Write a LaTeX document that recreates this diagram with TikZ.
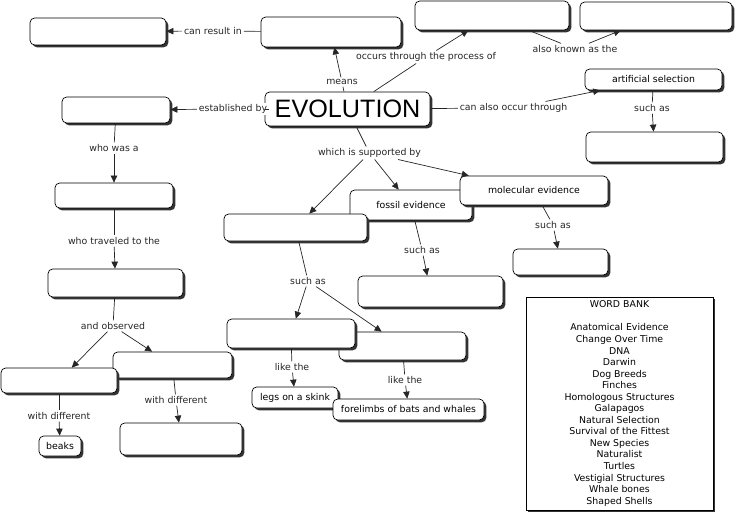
\documentclass[tikz,border=0pt]{standalone}
\usepackage{fontspec}
\setmainfont{DejaVu Sans}
\newfontfamily\evofont{Liberation Sans}
\usetikzlibrary{arrows.meta,shadows}

\begin{document}
\begin{tikzpicture}[x=0.03cm,y=-0.03cm,
  box/.style={draw,line width=0.6pt,rounded corners=4pt,fill=white,inner sep=2pt,
    drop shadow={shadow xshift=2pt,shadow yshift=-2pt,fill=black!80,opacity=1},
    font=\fontsize{8}{9.6}\selectfont},
  dims/.style 2 args={minimum width=#1cm,minimum height=#2cm},
  lbl/.style={fill=white,inner sep=1.5pt,text=black!85,font=\fontsize{8}{9.6}\selectfont},
  link/.style={draw=black!85,line width=0.6pt},
  arr/.style={link,-{Triangle[length=6pt,width=5.5pt]}}]
  \useasboundingbox (0,0) rectangle (736,515);
  % concept boxes
  \node[box,dims={4.08}{0.81}] (result) at (98,31.5) {};
  \node[box,dims={4.2}{0.9}] (meaning) at (331,32) {};
  \node[box,dims={4.62}{0.87}] (process) at (492,15.5) {};
  \node[box,dims={4.56}{0.84}] (aka) at (656,16) {};
  \node[box,dims={4.95}{1.02},font=\evofont\fontsize{21.5}{24}\selectfont] (evo) at (347.5,109) {EVOLUTION};
  \node[box,dims={4.11}{0.63}] (artsel) at (653.5,79.5) {artificial selection};
  \node[box,dims={4.11}{0.9}] (breeds) at (654.5,147) {};
  \node[box,dims={3.24}{0.78}] (founder) at (116,110) {};
  \node[box,dims={3.54}{0.75}] (job) at (114,195.5) {};
  \node[box,dims={4.05}{0.84}] (place) at (115.5,283) {};
  \node[box,dims={3.57}{0.78}] (animalR) at (172.5,365) {};
  \node[box,dims={3.48}{0.75}] (animalL) at (59,380.5) {};
  \node[box,dims={1.26}{0.6}] (beaks) at (60,446) {beaks};
  \node[box,dims={3.66}{0.96}] (shells) at (181,439) {};
  \node[box,dims={3.66}{0.9}] (fossil) at (411,205) {fossil evidence};
  \node[box,dims={4.44}{0.87}] (molec) at (534,190.5) {molecular evidence};
  \node[box,dims={4.29}{0.81}] (anat) at (295.5,227.5) {};
  \node[box,dims={2.85}{0.78}] (dna) at (560.5,262) {};
  \node[box,dims={4.35}{0.93}] (bones) at (430.5,291.5) {};
  \node[box,dims={3.81}{0.84}] (vest) at (402.5,346) {};
  \node[box,dims={3.84}{0.87}] (homol) at (291,333.5) {};
  \node[box,dims={2.58}{0.63}] (skink) at (295,397.5) {legs on a skink};
  \node[box,dims={4.53}{0.63}] (limbs) at (408.5,409.5) {forelimbs of bats and whales};
  \node[box,dims={5.61}{6.39},rounded corners=0pt,align=center,font=\fontsize{8}{9.85}\selectfont] (bank) at (619.5,403.5)
    {WORD BANK\\[9.85pt]Anatomical Evidence\\Change Over Time\\DNA\\Darwin\\Dog Breeds\\Finches\\Homologous Structures\\Galapagos\\Natural Selection\\Survival of the Fittest\\New Species\\Naturalist\\Turtles\\Vestigial Structures\\Whale bones\\Shaped Shells};
  % linking phrases
  \node[lbl] (canresult) at (213,31) {can result in};
  \node[lbl] (means) at (342,82) {means};
  \node[lbl] (through) at (426,57) {occurs through the process of};
  \node[lbl] (known) at (575,49) {also known as the};
  \node[lbl] (established) at (233,109) {established by};
  \node[lbl] (alsooccur) at (513.5,108) {can also occur through};
  \node[lbl] (suchart) at (652,108) {such as};
  \node[lbl] (whowas) at (114,148) {who was a};
  \node[lbl] (traveled) at (114,241) {who traveled to the};
  \node[lbl] (observed) at (113,326) {and observed};
  \node[lbl] (diffL) at (59,416) {with different};
  \node[lbl] (diffR) at (176,400) {with different};
  \node[lbl] (supported) at (369.5,153) {which is supported by};
  \node[lbl] (suchanat) at (308,281) {such as};
  \node[lbl] (suchfossil) at (422,250) {such as};
  \node[lbl] (suchmolec) at (553,225) {such as};
  \node[lbl] (likehomol) at (292,367) {like the};
  \node[lbl] (likevest) at (405,380) {like the};
  % links
  \draw[link] (meaning) -- (canresult); \draw[arr] (canresult) -- (result);
  \draw[link] (evo) -- (means); \draw[arr] (means) -- (meaning);
  \draw[link] (evo) -- (through); \draw[arr] (through) -- (process);
  \draw[link] (process) -- (known); \draw[arr] (known) -- (aka);
  \draw[link] (evo) -- (established); \draw[arr] (established) -- (founder);
  \draw[link] (evo) -- (alsooccur); \draw[arr] (alsooccur) -- (artsel);
  \draw[link] (artsel) -- (suchart); \draw[arr] (suchart) -- (breeds);
  \draw[link] (founder) -- (whowas); \draw[arr] (whowas) -- (job);
  \draw[link] (job) -- (traveled); \draw[arr] (traveled) -- (place);
  \draw[link] (place) -- (observed); \draw[arr] (observed) -- (animalL); \draw[arr] (observed) -- (animalR);
  \draw[link] (animalL) -- (diffL); \draw[arr] (diffL) -- (beaks);
  \draw[link] (animalR) -- (diffR); \draw[arr] (diffR) -- (shells);
  \draw[link] (evo) -- (supported);
  \draw[arr] (supported) -- (anat); \draw[arr] (supported) -- (fossil); \draw[arr] (supported) -- (molec);
  \draw[link] (anat) -- (suchanat); \draw[arr] (suchanat) -- (homol); \draw[arr] (suchanat) -- (vest);
  \draw[link] (fossil) -- (suchfossil); \draw[arr] (suchfossil) -- (bones);
  \draw[link] (molec) -- (suchmolec); \draw[arr] (suchmolec) -- (dna);
  \draw[link] (homol) -- (likehomol); \draw[arr] (likehomol) -- (skink);
  \draw[link] (vest) -- (likevest); \draw[arr] (likevest) -- (limbs);
\end{tikzpicture}
\end{document}
